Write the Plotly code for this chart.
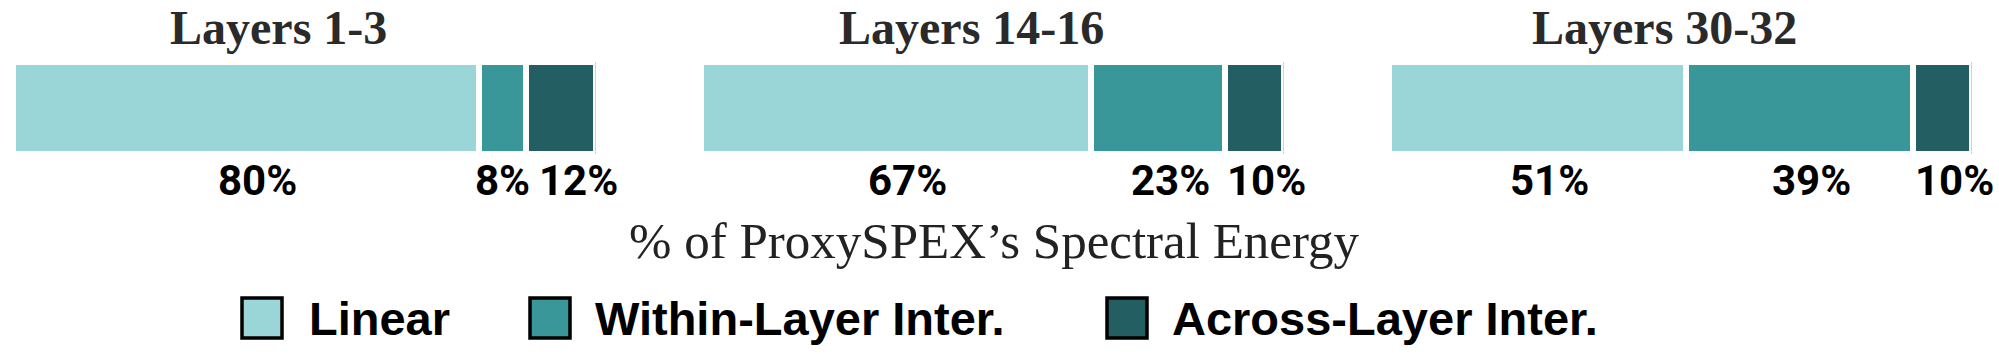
import plotly.graph_objects as go

# ---- data ----
panels = ["Layers 1-3", "Layers 14-16", "Layers 30-32"]
components = ["Linear", "Within-Layer Inter.", "Across-Layer Inter."]
linear = [80, 67, 51]
within_layer = [8, 23, 39]
across_layer = [12, 10, 10]
axis_title = "% of ProxySPEX\u2019s Spectral Energy"

series = [linear, within_layer, across_layer]
colors = ["#9AD5D8", "#3A9799", "#235E62"]

# ---- layout constants (pixels) ----
W, H = 1999, 354
panel_left = [12.5, 700.5, 1388.5]
panel_width = 583.0
bar_top_px, bar_bot_px = 62, 154
edge_w = 6

def px(xp):
    return xp / W

def py(yp):
    return 1 - yp / H

fig = go.Figure()

axis_names = ["x", "x2", "x3"]
for p in range(len(panels)):
    for c in range(len(components)):
        fig.add_trace(go.Bar(
            x=[series[c][p]], y=[0], orientation="h",
            xaxis=axis_names[p], yaxis="y", width=1,
            name=components[c], showlegend=False,
            marker=dict(color=colors[c], line=dict(color="white", width=edge_w)),
            hoverinfo="skip",
        ))

layout_axes = {}
for p in range(len(panels)):
    key = "xaxis" if p == 0 else f"xaxis{p+1}"
    layout_axes[key] = dict(
        domain=[px(panel_left[p]), px(panel_left[p] + panel_width)],
        range=[0, 100], visible=False, anchor="y", fixedrange=True,
    )

fig.update_layout(
    width=W, height=H,
    margin=dict(l=0, r=0, t=0, b=0),
    paper_bgcolor="white", plot_bgcolor="rgba(0,0,0,0)",
    barmode="stack", showlegend=False,
    yaxis=dict(domain=[py(bar_bot_px), py(bar_top_px)], range=[-0.5, 0.5],
               visible=False, fixedrange=True),
    **layout_axes,
)

annotations = []
label_font = dict(family="Roboto, Liberation Sans, sans-serif", size=42, color="black")
label_shift = {(0, 1): 0, (0, 2): 18}
for p in range(len(panels)):
    cum = 0
    for c in range(len(components)):
        v = series[c][p]
        annotations.append(dict(
            x=cum + v / 2, xref=axis_names[p], y=py(180), yref="paper",
            text=f"<b>{v}%</b>", showarrow=False, xanchor="center", yanchor="middle",
            xshift=label_shift.get((p, c), 12), font=label_font,
        ))
        cum += v
    # panel title
    title_shift = [-26, -21, -16][p]
    annotations.append(dict(
        x=px(panel_left[p] + panel_width / 2), xref="paper", y=1.0, yref="paper",
        text=f"<b>{panels[p]}</b>", showarrow=False, xanchor="center", yanchor="top",
        xshift=title_shift, borderpad=0,
        font=dict(family="Liberation Serif, Times New Roman, serif", size=48, color="#2a2a2a"),
    ))

annotations.append(dict(
    x=px(994), xref="paper", y=py(240.5), yref="paper", text=axis_title,
    showarrow=False, xanchor="center", yanchor="middle",
    font=dict(family="Liberation Serif, Times New Roman, serif", size=51, color="#222222"),
))

# manual legend
legend_box_x = [242, 530, 1107]
legend_text_x = [307, 593, 1170]
shapes = []
for c in range(len(components)):
    shapes.append(dict(
        type="rect", xref="paper", yref="paper",
        x0=px(legend_box_x[c]), x1=px(legend_box_x[c] + 40),
        y0=py(338), y1=py(298),
        fillcolor=colors[c], line=dict(color="black", width=3.5),
    ))
    annotations.append(dict(
        x=px(legend_text_x[c]), xref="paper", y=py(318.5), yref="paper",
        text=f"<b>{components[c]}</b>", showarrow=False, xanchor="left", yanchor="middle",
        font=dict(family="Liberation Sans, Arial, sans-serif", size=47, color="black"),
    ))

fig.update_layout(annotations=annotations, shapes=shapes)
fig.write_html("out.html")
